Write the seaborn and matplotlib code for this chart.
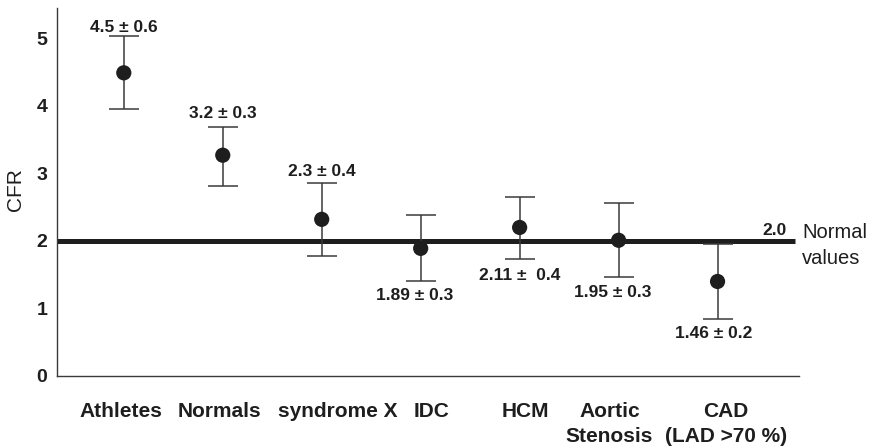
import numpy as np
import pandas as pd
import matplotlib
matplotlib.use("Agg")
import matplotlib.pyplot as plt
import seaborn as sns

# ---- data ----
categories = ["Athletes", "Normals", "syndrome X", "IDC", "HCM",
              "Aortic\nStenosis", "CAD\n(LAD >70 %)"]
cfr_mean = [4.49, 3.27, 2.32, 1.89, 2.20, 2.01, 1.40]
cfr_upper = [5.03, 3.69, 2.86, 2.38, 2.65, 2.56, 1.95]
cfr_lower = [3.95, 2.82, 1.78, 1.40, 1.73, 1.47, 0.85]
value_labels = ["4.5 ± 0.6", "3.2 ± 0.3", "2.3 ± 0.4", "1.89 ± 0.3",
                "2.11 ±  0.4", "1.95 ± 0.3", "1.46 ± 0.2"]
normal_value = 2.0
normal_label = "2.0"
normal_text = "Normal\nvalues"
y_ticks = [0, 1, 2, 3, 4, 5]

# ---- style ----
sns.set_style("white")
plt.rcParams["font.family"] = ["Liberation Sans", "DejaVu Sans"]
INK = "#1e1e1e"
AXC = "#3a3a3a"

W, H = 874, 447
fig = plt.figure(figsize=(W / 100, H / 100), dpi=100)
ax = fig.add_axes([57 / W, 1 - 376 / H, (799 - 57) / W, (376 - 8) / H])

df = pd.DataFrame({"category": categories, "CFR": cfr_mean})
x = np.arange(len(categories))
mean = np.array(cfr_mean)
err = [mean - np.array(cfr_lower), np.array(cfr_upper) - mean]

xl = (-0.675, 6.823)

# normal reference line
ax.plot([xl[0], 6.78], [normal_value, normal_value], color=INK, lw=3.6,
        solid_capstyle="butt", zorder=2)

ax.errorbar(x, mean, yerr=err, fmt="none", ecolor=AXC, elinewidth=1.1,
            capsize=10.8, capthick=1.1, zorder=3)
sns.scatterplot(data=df, x="category", y="CFR", ax=ax, s=120, color=INK,
                edgecolor="none", zorder=4, legend=False)

ax.set_xlim(*xl)
ax.set_ylim(0, 5.45)

# value annotations: (above?, offset in points)
place = [(True, 1), (True, 4), (True, 3), (False, 5),
         (False, 6), (False, 6), (False, 5)]
xshift = [0, 0, 0, -4, 0, -4, -3]
for i, lab in enumerate(value_labels):
    above, off = place[i]
    if above:
        ax.annotate(lab, (x[i], cfr_upper[i]), xytext=(xshift[i], off),
                    textcoords="offset points", ha="center", va="bottom",
                    fontsize=12.5, fontweight="bold", color=INK)
    else:
        ax.annotate(lab, (x[i], cfr_lower[i]), xytext=(xshift[i], -off),
                    textcoords="offset points", ha="center", va="top",
                    fontsize=12.5, fontweight="bold", color=INK)

ax.annotate(normal_label, (6.58, normal_value), xytext=(0, 2),
            textcoords="offset points", ha="center", va="bottom",
            fontsize=12.5, fontweight="bold", color=INK)
ax.text(6.855, normal_value - 0.07, normal_text, ha="left", va="center",
        fontsize=14.5, color=INK, linespacing=1.45, clip_on=False)

fig.text(16 / W, 1 - 190 / H, "CFR", rotation=90, ha="center", va="center",
         fontsize=15, color=INK)

ax.set_xlabel("")
ax.set_ylabel("")
ax.set_xticks(x)
ax.set_xticklabels([])
ax.set_yticks(y_ticks)
ax.set_yticklabels([str(t) for t in y_ticks], fontsize=14, fontweight="bold",
                   color=INK)

# category labels drawn below the ticks, nudged (in points) as in the reference
label_dx = [-2.2, -2.2, 11.5, 8, 4.3, -6.5, 5.8]
xtrans = ax.get_xaxis_transform()
for i, (lab, dx) in enumerate(zip(categories, label_dx)):
    ax.annotate(lab, (x[i], 0), xycoords=xtrans, xytext=(dx, -18.5),
                textcoords="offset points", ha="center", va="top",
                fontsize=15, fontweight="bold", color=INK,
                linespacing=1.4, annotation_clip=False)

for s in ["top", "right"]:
    ax.spines[s].set_visible(False)
for s in ["left", "bottom"]:
    ax.spines[s].set_color(AXC)
    ax.spines[s].set_linewidth(1.0)

ax.tick_params(axis="y", direction="in", length=10, width=1, color=AXC, pad=7)
ax.tick_params(axis="x", direction="out", length=10, width=1, color=AXC, pad=6)

fig.savefig("out.png", dpi=100)
